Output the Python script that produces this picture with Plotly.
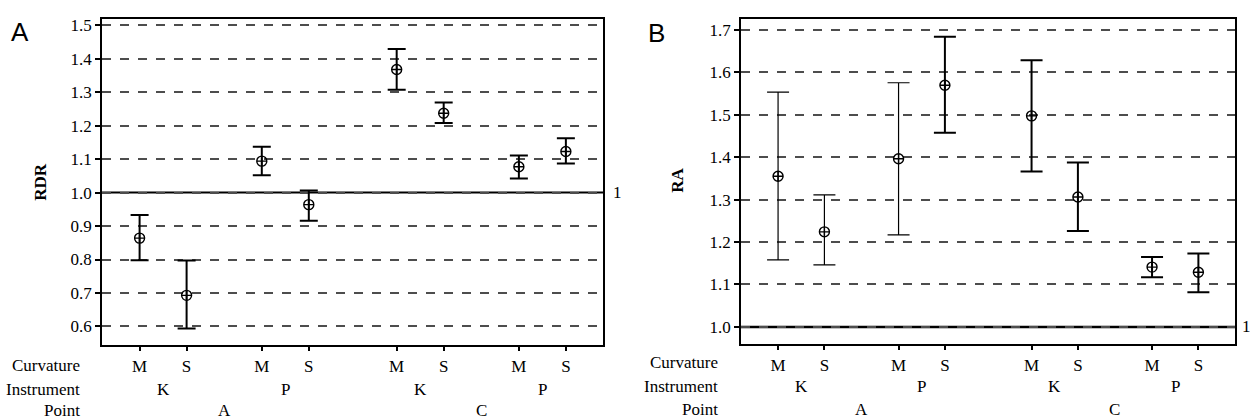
import plotly.graph_objects as go

# ---- data ----
points = ["A", "C"]
instruments = ["K", "P"]
curvatures = ["M", "S"]

rdr_mean = [0.864, 0.693, 1.094, 0.964, 1.368, 1.237, 1.077, 1.123]
rdr_lower = [0.798, 0.594, 1.052, 0.916, 1.307, 1.208, 1.042, 1.087]
rdr_upper = [0.933, 0.797, 1.137, 1.006, 1.429, 1.269, 1.111, 1.162]

ra_mean = [1.355, 1.224, 1.396, 1.569, 1.497, 1.306, 1.141, 1.129]
ra_lower = [1.158, 1.146, 1.217, 1.457, 1.366, 1.226, 1.117, 1.082]
ra_upper = [1.553, 1.311, 1.575, 1.683, 1.628, 1.387, 1.165, 1.173]

ytick_a = [0.6, 0.7, 0.8, 0.9, 1.0, 1.1, 1.2, 1.3, 1.4, 1.5]
ytick_b = [1.0, 1.1, 1.2, 1.3, 1.4, 1.5, 1.6, 1.7]

# ---- layout of the hierarchical x positions ----
GAP_CURV, GAP_INSTR, GAP_POINT = 1.0, 1.6, 1.87
pos, curv_lab, instr_pos, point_pos = [], [], [], []
x = 0.0
for pi, p in enumerate(points):
    if pi > 0:
        x += GAP_POINT - GAP_CURV
    pstart = x
    for ii, ins in enumerate(instruments):
        if ii > 0:
            x += GAP_INSTR - GAP_CURV
        istart = x
        for ci, c in enumerate(curvatures):
            if ci > 0:
                x += GAP_CURV
            pos.append(x)
            curv_lab.append(c)
        instr_pos.append(((istart + x) / 2, ins))
        if ii < len(instruments) - 1:
            x += GAP_CURV
    point_pos.append(((pstart + x) / 2, p))
    x += GAP_CURV

W, H = 1250, 419
SERIF = "Liberation Serif"
SANS = "Liberation Sans"

fig = go.Figure()


def add_panel(mean, lower, upper, xa, ya, cap, thick):
    groups = {}
    for i, t in enumerate(thick):
        groups.setdefault(t, []).append(i)
    for t, idx in groups.items():
        fig.add_trace(go.Scatter(
            x=[pos[i] for i in idx], y=[mean[i] for i in idx],
            mode="markers", xaxis=xa, yaxis=ya, showlegend=False,
            marker=dict(symbol="circle-cross-open", size=10, color="black",
                        line=dict(width=1.4, color="black")),
            error_y=dict(type="data", symmetric=False,
                         array=[upper[i] - mean[i] for i in idx],
                         arrayminus=[mean[i] - lower[i] for i in idx],
                         color="black", thickness=t, width=cap),
        ))


add_panel(rdr_mean, rdr_lower, rdr_upper, "x", "y", 9, [2] * 8)
add_panel(ra_mean, ra_lower, ra_upper, "x2", "y2", 11, [1.2, 1.2, 1.2, 2, 2, 2, 2, 2])

xrng = [-0.8, 9.86]
common_x = dict(range=xrng, tickmode="array", tickvals=pos, ticktext=curv_lab,
                ticks="outside", ticklen=5, tickwidth=1.5, tickcolor="black",
                showline=True, linecolor="black", linewidth=1.5, mirror=True,
                showgrid=False, zeroline=False,
                tickfont=dict(family=SERIF, size=17, color="black"))
common_y = dict(tickmode="array", ticks="outside", ticklen=5, tickwidth=1.5,
                tickcolor="black", showline=True, linecolor="black",
                linewidth=1.5, mirror=True, showgrid=True, gridcolor="#4d4d4d",
                gridwidth=1.5, griddash="dash", zeroline=False,
                tickfont=dict(family=SERIF, size=17, color="black"))

xa_dom = [102 / W, 603 / W]
xb_dom = [741 / W, 1235 / W]
ya_dom = [1 - 344 / H, 1 - 16 / H]
yb_dom = [1 - 343 / H, 1 - 15.7 / H]

fig.update_layout(
    width=W, height=H, margin=dict(l=0, r=0, t=0, b=0),
    paper_bgcolor="white", plot_bgcolor="white",
    xaxis=dict(domain=xa_dom, anchor="y", **common_x),
    yaxis=dict(domain=ya_dom, anchor="x", range=[0.546, 1.519],
               tickvals=ytick_a, ticktext=[f"{v:.1f}" for v in ytick_a], **common_y),
    xaxis2=dict(domain=xb_dom, anchor="y2", **common_x),
    yaxis2=dict(domain=yb_dom, anchor="x2", range=[0.961, 1.726],
                tickvals=ytick_b, ticktext=[f"{v:.1f}" for v in ytick_b], **common_y),
)

# reference line at 1
fig.add_shape(type="line", xref="x domain", yref="y", x0=0, x1=1, y0=1, y1=1,
              line=dict(color="black", width=2), layer="below")
fig.add_shape(type="line", xref="x2 domain", yref="y2", x0=0, x1=1, y0=1, y1=1,
              line=dict(color="black", width=2.4), layer="below")

ann = []
ann.append(dict(text="1", x=611 / W, y=1.0, xref="paper", yref="y",
                xanchor="left", yanchor="middle", showarrow=False,
                font=dict(family=SERIF, size=17, color="black")))
ann.append(dict(text="1", x=1240 / W, y=1.0, xref="paper", yref="y2",
                xanchor="left", yanchor="middle", showarrow=False,
                font=dict(family=SERIF, size=17, color="black")))

# panel letters
ann.append(dict(text="A", x=20 / W, y=1 - 29 / H, xref="paper", yref="paper",
                xanchor="center", yanchor="middle", showarrow=False,
                font=dict(family=SANS, size=26, color="black")))
ann.append(dict(text="B", x=656 / W, y=1 - 30 / H, xref="paper", yref="paper",
                xanchor="center", yanchor="middle", showarrow=False,
                font=dict(family=SANS, size=26, color="black")))

# y titles
ann.append(dict(text="<b>RDR</b>", x=41 / W, y=1 - 180 / H, xref="paper", yref="paper",
                xanchor="center", yanchor="middle", showarrow=False, textangle=-90,
                font=dict(family=SERIF, size=17, color="black")))
ann.append(dict(text="<b>RA</b>", x=678 / W, y=1 - 179 / H, xref="paper", yref="paper",
                xanchor="center", yanchor="middle", showarrow=False, textangle=-90,
                font=dict(family=SERIF, size=17, color="black")))

# row labels and hierarchical labels
for xr, right_px, rows in [("x", 82, (365, 389, 410)), ("x2", 720, (362, 386, 409))]:
    for txt, ypx in zip(["Curvature", "Instrument", "Point"], rows):
        ann.append(dict(text=txt, x=right_px / W, y=1 - ypx / H, xref="paper",
                        yref="paper", xanchor="right", yanchor="middle",
                        showarrow=False, font=dict(family=SERIF, size=17, color="black")))
    for xp, lab in instr_pos:
        ann.append(dict(text=lab, x=xp, y=1 - rows[1] / H, xref=xr, yref="paper",
                        xanchor="center", yanchor="middle", showarrow=False,
                        font=dict(family=SERIF, size=17, color="black")))
    for xp, lab in point_pos:
        ann.append(dict(text=lab, x=xp, y=1 - rows[2] / H, xref=xr, yref="paper",
                        xanchor="center", yanchor="middle", showarrow=False,
                        font=dict(family=SERIF, size=17, color="black")))

fig.update_layout(annotations=ann)
fig.write_html(
    "out.html",
    config={"displayModeBar": False},
    post_script="document.body.style.margin='0';document.body.style.padding='0';"
                "document.documentElement.style.overflow='hidden';",
)
